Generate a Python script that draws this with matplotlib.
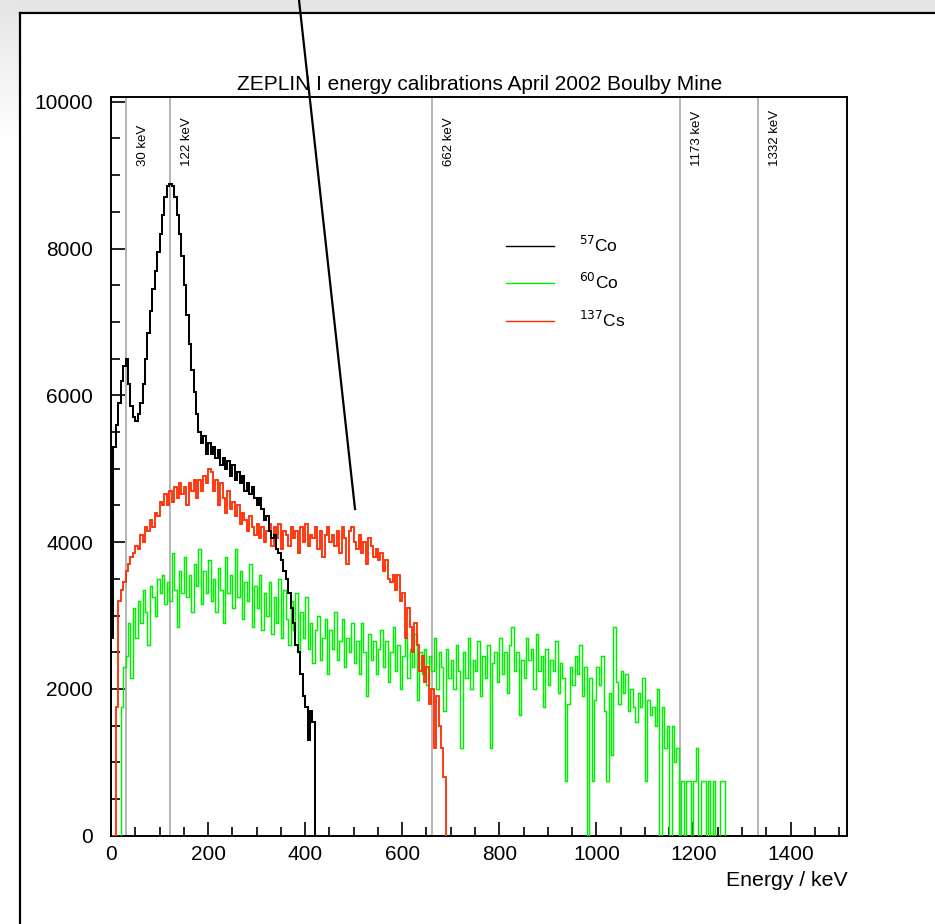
import numpy as np
import matplotlib
matplotlib.use("Agg")
import matplotlib.pyplot as plt
from matplotlib.lines import Line2D
from matplotlib.ticker import MultipleLocator
from matplotlib.transforms import blended_transform_factory, ScaledTranslation

plt.rcParams['font.family'] = ['Liberation Sans', 'DejaVu Sans']

BIN_KEV = 5  # channel width of the energy histograms

# counts per 5 keV channel, starting at 0 keV
co57 = [2700, 5300, 5600, 5900, 6200, 6400, 6500, 6150, 5850, 5700,
        5650, 5750, 5900, 6150, 6500, 6850, 7150, 7450, 7700, 7950,
        8200, 8450, 8700, 8850, 8880, 8850, 8700, 8450, 8200, 7900,
        7500, 7100, 6700, 6350, 6050, 5750, 5500, 5350, 5450, 5200,
        5350, 5200, 5300, 5150, 5250, 5050, 5150, 5000, 5100, 4900,
        5050, 4850, 4950, 4800, 4900, 4700, 4800, 4650, 4750, 4600,
        4500, 4600, 4450, 4300, 4350, 4150, 4050, 4100, 3900, 3850,
        3750, 3600, 3500, 3300, 3100, 2900, 2600, 2500, 2200, 1900,
        1750, 1300, 1700, 1550]

cs137 = [0, 0, 1750, 3200, 3350, 3450, 3600, 3700, 3800, 3850,
         3950, 3900, 4100, 4000, 4200, 4150, 4300, 4200, 4400, 4350,
         4550, 4500, 4650, 4500, 4700, 4550, 4750, 4600, 4800, 4650,
         4750, 4500, 4800, 4700, 4850, 4600, 4850, 4700, 4900, 4800,
         5000, 4950, 4700, 4850, 4500, 4800, 4600, 4400, 4700, 4450,
         4550, 4350, 4500, 4250, 4400, 4300, 4150, 4350, 4200, 4100,
         4250, 4050, 4200, 4000, 4150, 4250, 3950, 4200, 4050, 4250,
         3900, 4150, 4100, 3950, 4200, 4050, 4150, 3850, 4200, 4000,
         4250, 3950, 4100, 4050, 4200, 3900, 4150, 3800, 4100, 4200,
         4000, 4100, 3950, 4150, 3850, 4200, 4050, 3700, 4150, 4200,
         4000, 3900, 4100, 3850, 4000, 3700, 4050, 3950, 3800, 3900,
         3750, 3850, 3600, 3750, 3500, 3450, 3550, 3350, 3550, 3200,
         3300, 2700, 3100, 2850, 2500, 2900, 2600, 2250, 2450, 2100,
         2300, 1800, 2000, 1200, 1900, 1500, 1200, 800]

co60 = [0, 0, 0, 0, 1750, 2300, 2450, 2900, 2150, 3100,
        2700, 3200, 2900, 3350, 3050, 2600, 3400, 3250, 3000, 3500,
        3300, 3550, 3150, 3450, 3200, 3850, 3350, 2850, 3600, 3300,
        3800, 3250, 3550, 3050, 3700, 3400, 3900, 3150, 3600, 3300,
        3750, 3200, 3500, 3050, 3650, 3350, 2900, 3800, 3300, 3550,
        3100, 3900, 3250, 3600, 2950, 3450, 3200, 3700, 2850, 3400,
        3100, 3550, 2800, 3300, 3000, 3450, 2750, 3250, 2900, 3500,
        2700, 3350, 2950, 2600, 3200, 2800, 3300, 2500, 3050, 2700,
        3250, 2550, 2900, 2350, 2800, 3000, 2400, 2700, 2950, 2200,
        2800, 2550, 3050, 2400, 2650, 2950, 2300, 2700, 2500, 2900,
        2350, 2650, 2200, 2900, 2500, 1900, 2750, 2400, 2650, 2200,
        2550, 2800, 2300, 2650, 2100, 2500, 2850, 2250, 2600, 2000,
        2450, 2700, 2150, 2550, 2300, 2750, 1850, 2500, 2200, 2550,
        2050, 2450, 2250, 2700, 2000, 2500, 2300, 1700, 2550, 2150,
        2400, 2000, 2600, 2250, 1200, 2500, 2150, 2700, 2000, 2400,
        2250, 2650, 1900, 2450, 2150, 2600, 1200, 2350, 2500, 2100,
        2700, 2200, 2500, 1950, 2600, 2850, 2250, 2500, 1650, 2400,
        2150, 2700, 2400, 2550, 2000, 2750, 2250, 2450, 1750, 2550,
        2050, 2400, 2250, 2650, 1950, 2350, 2150, 750, 1800, 2300,
        2050, 2450, 2200, 2600, 1900, 2300, 0, 2150, 750, 1850,
        2300, 2050, 2450, 1700, 750, 1950, 1100, 2850, 2100, 1800,
        2250, 1950, 2200, 1700, 2000, 1750, 1550, 1950, 1750, 2150,
        750, 1850, 1650, 1750, 1500, 2000, 0, 1750, 1200, 1500,
        0, 1500, 1000, 1200, 0, 750, 0, 750, 750, 0,
        750, 1200, 0, 750, 750, 0, 750, 0, 750, 0,
        0, 750, 750]

# calibration gamma lines
line_kev = [30, 122, 662, 1173, 1332]
line_text = ["30 keV", "122 keV", "662 keV", "1173 keV", "1332 keV"]

series = [(co60, "#00ee00", 1.05, r"$^{60}$Co"),
          (cs137, "#ff2a00", 1.3, r"$^{137}$Cs"),
          (co57, "black", 1.45, r"$^{57}$Co")]

W, H = 935, 924
fig = plt.figure(figsize=(W / 100, H / 100), dpi=100)


def px(x, y):
    """pixel position (from top-left) -> figure fraction"""
    return x / W, 1 - y / H


# page background: grey strip above and left of the frame
bg = fig.add_axes([0, 0, 1, 1], zorder=-5)
img = np.ones((H, W, 3))
FX, FY = 20, 13
img[:FY, :, :] = 0.9
fade = np.clip(np.arange(H) / 140.0, 0, 1)[:, None]
img[:, :FX, :] = (0.9 + 0.1 * fade)[:, :, None] * np.ones((1, FX, 3))
bg.imshow(img, extent=[0, 1, 0, 1], aspect='auto')
bg.axis('off')

ax = fig.add_axes([111 / W, 1 - 835.7 / H, (847.3 - 111) / W, (835.7 - 97.3) / H])

for counts, col, lw, lab in series:
    edges = np.arange(len(counts) + 1) * BIN_KEV
    ax.stairs(counts, edges, color=col, lw=lw, baseline=0, zorder=3)

for e in line_kev:
    ax.axvline(e, color="#a0a0a0", lw=1.1, zorder=1)

tr = blended_transform_factory(ax.transData, ax.transAxes)
shift = ScaledTranslation(17 / 100, 0, fig.dpi_scale_trans)
for e, t in zip(line_kev, line_text):
    ax.text(e, 0.907, t, rotation=90, ha="center", va="bottom",
            fontsize=9.5, transform=tr + shift)

order = [2, 0, 1]
handles = [Line2D([], [], color=series[i][1], lw=1.0) for i in order]
labels = [series[i][3] for i in order]
ax.legend(handles, labels, loc="upper left", bbox_to_anchor=(0.515, 0.835),
          frameon=False, fontsize=12.5, handlelength=2.8, handletextpad=1.4,
          labelspacing=1.0)

ax.set_xlim(0, 1517)
ax.set_ylim(0, 10060)
ax.xaxis.set_major_locator(MultipleLocator(200))
ax.xaxis.set_minor_locator(MultipleLocator(50))
ax.yaxis.set_major_locator(MultipleLocator(2000))
ax.yaxis.set_minor_locator(MultipleLocator(500))
ax.tick_params(which="both", direction="in", top=False, right=False,
               width=1.2, labelsize=15)
ax.tick_params(which="major", length=10)
ax.tick_params(which="minor", length=6.5)
ax.tick_params(axis="x", pad=7)
ax.tick_params(axis="y", pad=13)
for sp in ax.spines.values():
    sp.set_linewidth(1.4)

ax.set_title("ZEPLIN I energy calibrations April 2002 Boulby Mine",
             fontsize=15, pad=5)
ax.text(1.0, -0.06, "Energy / keV", transform=ax.transAxes,
        ha="right", va="center", fontsize=15.3)

# page frame and the pointer line running down to the spectrum
fig.add_artist(Line2D([px(FX, FY)[0], 1], [px(FX, FY)[1]] * 2,
                      transform=fig.transFigure, color="black", lw=1.6))
fig.add_artist(Line2D([px(FX, FY)[0]] * 2, [px(FX, FY)[1], 0],
                      transform=fig.transFigure, color="black", lw=1.6))
x0, y0 = px(299, 0)
x1, y1 = px(355, 509)
fig.add_artist(Line2D([x0, x1], [y0, y1], transform=fig.transFigure,
                      color="black", lw=1.6, zorder=10))

fig.savefig("out.png", dpi=100)
